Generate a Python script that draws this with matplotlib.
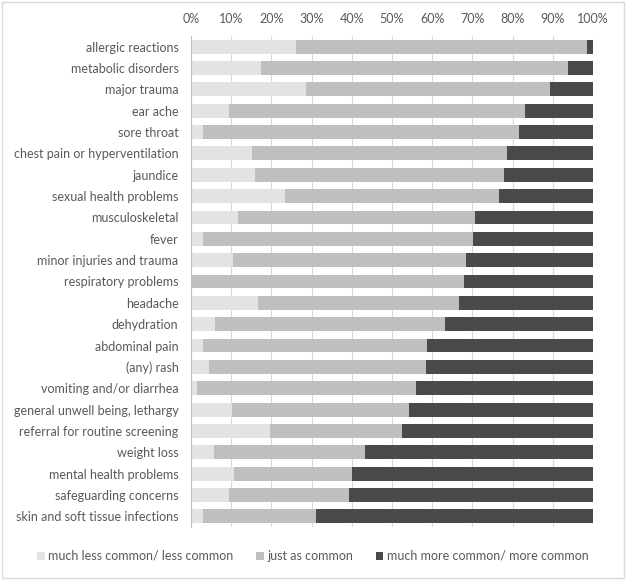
import matplotlib.pyplot as plt
from matplotlib.patches import Rectangle

categories = [
    "allergic reactions", "metabolic disorders", "major trauma", "ear ache",
    "sore throat", "chest pain or hyperventilation", "jaundice",
    "sexual health problems", "musculoskeletal", "fever",
    "minor injuries and trauma", "respiratory problems", "headache",
    "dehydration", "abdominal pain", "(any) rash", "vomiting and/or diarrhea",
    "general unwell being, lethargy", "referral for routine screening",
    "weight loss", "mental health problems", "safeguarding concerns",
    "skin and soft tissue infections",
]
less_common = [26.1, 17.5, 28.7, 9.4, 3.1, 15.1, 15.9, 23.3, 11.8, 2.9, 10.5,
               0.0, 16.6, 5.9, 2.9, 4.6, 1.4, 10.3, 19.7, 5.6, 10.7, 9.4, 2.9]
just_as_common = [72.4, 76.3, 60.7, 73.8, 78.5, 63.6, 61.9, 53.4, 58.8, 67.2,
                  57.8, 68.0, 50.1, 57.3, 55.9, 53.8, 54.5, 44.0, 32.7, 37.8,
                  29.3, 29.8, 28.1]
more_common = [100 - a - b for a, b in zip(less_common, just_as_common)]
series_names = ["much less common/ less common", "just as common",
                "much more common/ more common"]
colors = ["#e3e3e3", "#bfbfbf", "#4a4a48"]

plt.rcParams['font.family'] = ['Lato', 'DejaVu Sans']
text_color = "#595959"

fig = plt.figure(figsize=(6.26, 5.8), dpi=100)
ax = fig.add_axes([191 / 626, 53 / 580, 402 / 626, 491 / 580])

y = list(range(len(categories)))
left = [0] * len(categories)
for vals, name, col in zip([less_common, just_as_common, more_common], series_names, colors):
    ax.barh(y, vals, left=left, height=0.65, color=col, label=name, zorder=2)
    left = [l + v for l, v in zip(left, vals)]

ax.set_ylim(len(categories) - 0.5, -0.5)
ax.set_xlim(0, 100)
ax.set_yticks(y)
ax.set_yticklabels(categories, fontsize=9, color=text_color)
ax.set_xticks(range(0, 101, 10))
ax.set_xticklabels([f"{t}%" for t in range(0, 101, 10)], fontsize=9, color=text_color)
ax.xaxis.tick_top()
ax.tick_params(axis='y', length=0, pad=9)
ax.tick_params(axis='x', length=0, pad=8)
ax.grid(axis='x', color="#d9d9d9", linewidth=0.8, zorder=0)
for s in ['top', 'right', 'bottom']:
    ax.spines[s].set_visible(False)
ax.spines['left'].set_color("#bfbfbf")
ax.spines['left'].set_zorder(3)

fig.legend(loc='center', bbox_to_anchor=(0.5, 24 / 580), ncol=3, frameon=False,
           fontsize=9, labelcolor=text_color, handlelength=0.6, handleheight=0.6,
           handletextpad=0.3, columnspacing=1.8)

fig.patches.append(Rectangle((0.003, 0.003), 0.994, 0.994, transform=fig.transFigure,
                             fill=False, edgecolor="#d9d9d9", linewidth=1))

fig.savefig("out.png", dpi=100)
